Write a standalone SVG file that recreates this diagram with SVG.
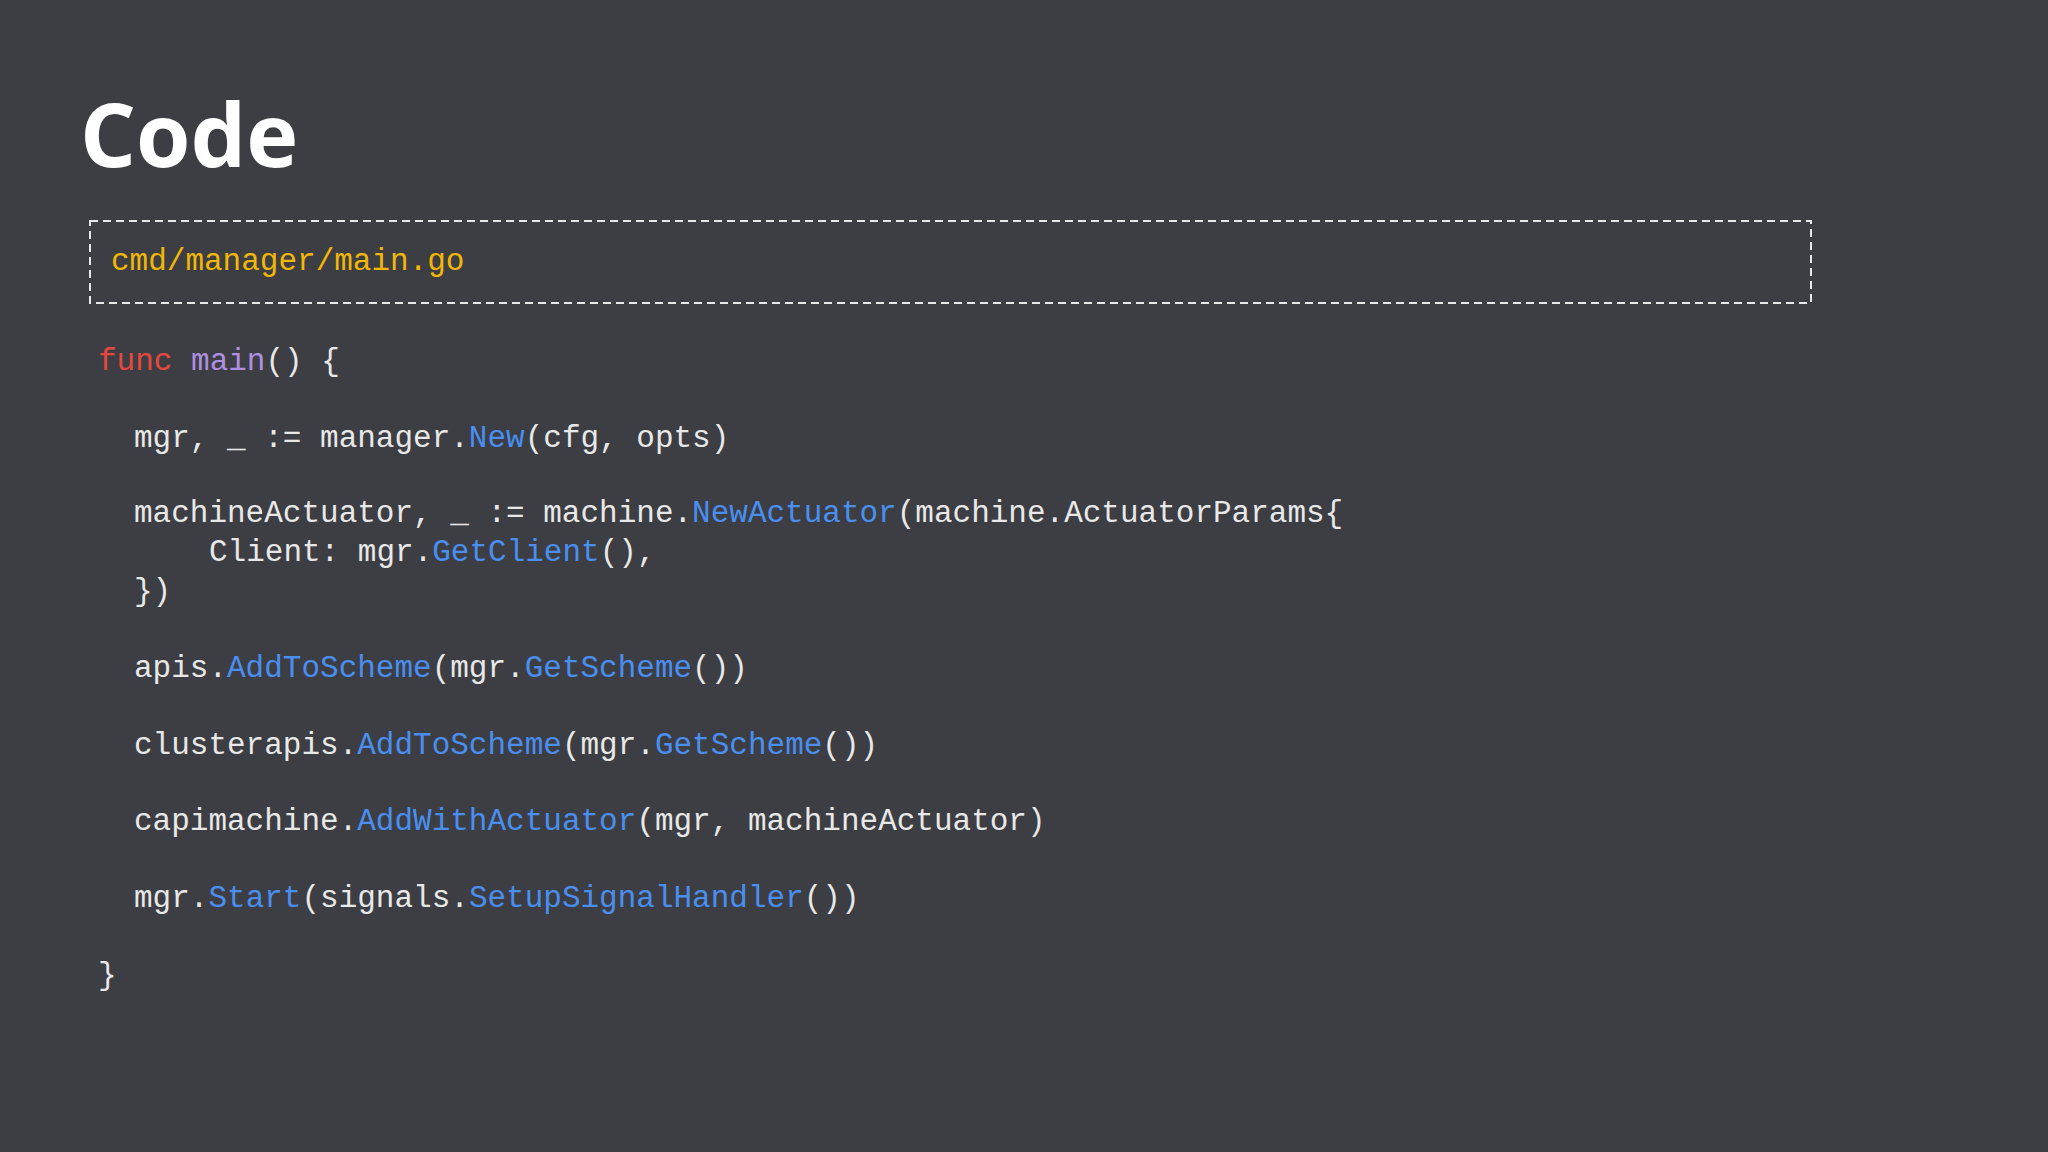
<svg xmlns="http://www.w3.org/2000/svg" width="2048" height="1152" viewBox="0 0 2048 1152">
<style>
.c{font-family:"Liberation Mono","DejaVu Sans Mono",monospace;font-size:31px;fill:#e8e8e8;white-space:pre}
.b{fill:#4a8ef0}.r{fill:#e5483f}.p{fill:#b08fe0}.y{fill:#f2b705}
</style>
<rect width="2048" height="1152" fill="#3c3e43"/>
<text x="80" y="167" font-family="Open Sans, Noto Sans, sans-serif" font-weight="bold" font-size="88" fill="#ffffff">Code</text>
<g id="file">
<rect x="90" y="221" width="1721" height="82" fill="none" stroke="#e8e8e8" stroke-width="2" stroke-dasharray="8,5"/>
<text class="c y" x="111" y="270">cmd/manager/main.go</text>
</g>
<g id="code" xml:space="preserve">
<text class="c" x="98" y="370"><tspan class="r">func</tspan> <tspan class="p">main</tspan>() {</text>
<text class="c" x="134" y="447">mgr, _ := manager.<tspan class="b">New</tspan>(cfg, opts)</text>
<text class="c" x="134" y="522">machineActuator, _ := machine.<tspan class="b">NewActuator</tspan>(machine.ActuatorParams{</text>
<text class="c" x="209" y="561">Client: mgr.<tspan class="b">GetClient</tspan>(),</text>
<text class="c" x="134" y="600">})</text>
<text class="c" x="134" y="677">apis.<tspan class="b">AddToScheme</tspan>(mgr.<tspan class="b">GetScheme</tspan>())</text>
<text class="c" x="134" y="754">clusterapis.<tspan class="b">AddToScheme</tspan>(mgr.<tspan class="b">GetScheme</tspan>())</text>
<text class="c" x="134" y="830">capimachine.<tspan class="b">AddWithActuator</tspan>(mgr, machineActuator)</text>
<text class="c" x="134" y="907">mgr.<tspan class="b">Start</tspan>(signals.<tspan class="b">SetupSignalHandler</tspan>())</text>
<text class="c" x="98" y="984">}</text>
</g>
</svg>
